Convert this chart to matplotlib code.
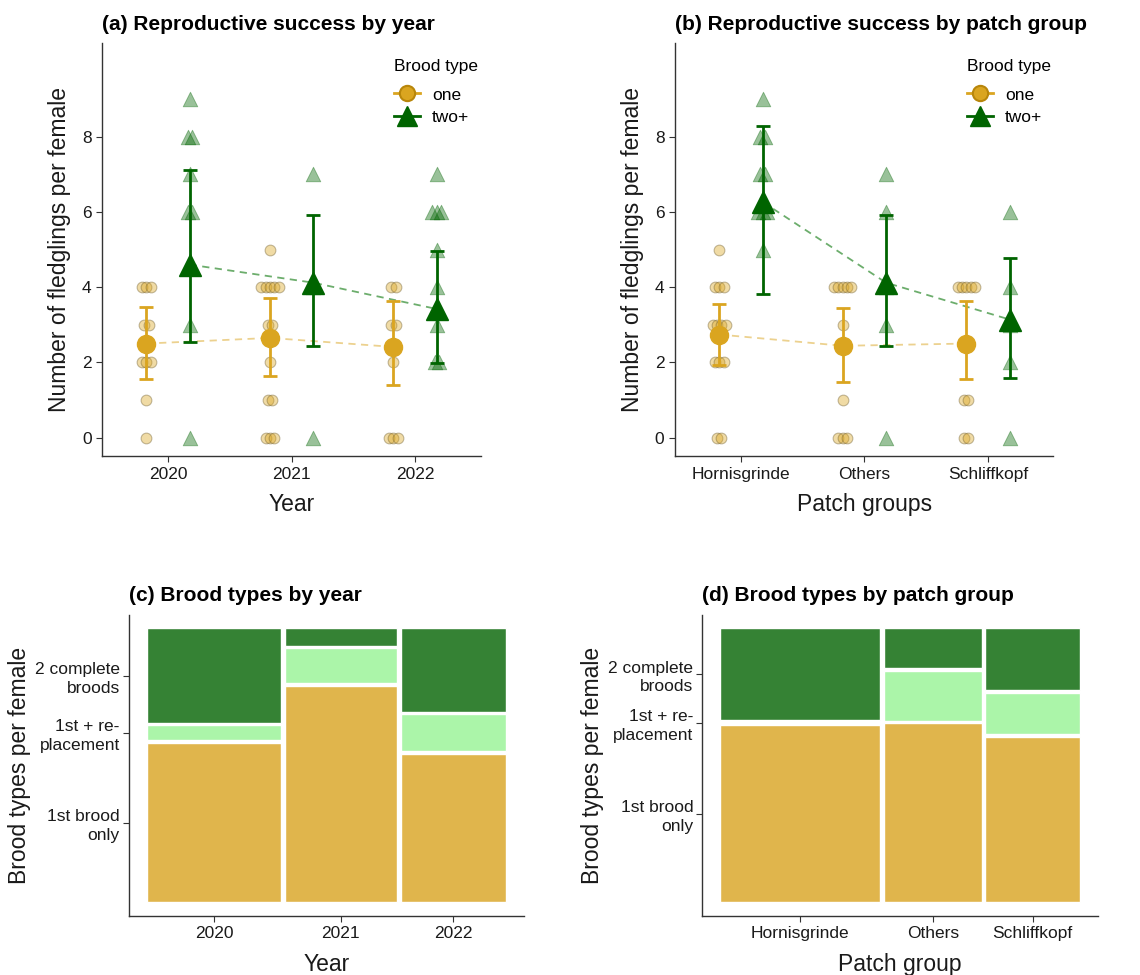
import numpy as np
import matplotlib
matplotlib.use('Agg')
import matplotlib.pyplot as plt
from matplotlib.lines import Line2D

plt.rcParams['font.family'] = ['Liberation Sans', 'DejaVu Sans']

# ---- data: reproductive success (panels a, b) ----
years = ['2020', '2021', '2022']
patches = ['Hornisgrinde', 'Others', 'Schliffkopf']

# raw fledgling counts per female (one brood / two+ broods)
year_one_pts = [[4, 4, 4, 3, 3, 2, 2, 2, 1, 0],
                [5, 4, 4, 4, 4, 4, 3, 3, 2, 1, 1, 0, 0, 0],
                [4, 4, 3, 3, 2, 0, 0, 0]]
year_two_pts = [[9, 8, 8, 7, 6, 6, 3, 0],
                [7, 4, 0],
                [7, 6, 6, 6, 5, 4, 3, 2, 2]]
patch_one_pts = [[5, 4, 4, 4, 3, 3, 3, 3, 2, 2, 2, 0, 0],
                 [4, 4, 4, 4, 4, 3, 1, 0, 0, 0],
                 [4, 4, 4, 4, 4, 1, 1, 0, 0]]
patch_two_pts = [[9, 8, 8, 7, 7, 6, 6, 6, 5],
                 [7, 6, 4, 3, 0],
                 [6, 4, 3, 2, 0]]

# model estimates with intervals
year_one_mean = [2.50, 2.65, 2.41]
year_one_lo = [1.56, 1.63, 1.39]
year_one_hi = [3.46, 3.70, 3.63]
year_two_mean = [4.60, 4.12, 3.42]
year_two_lo = [2.54, 2.43, 1.98]
year_two_hi = [7.12, 5.92, 4.97]

patch_one_mean = [2.74, 2.44, 2.50]
patch_one_lo = [1.93, 1.48, 1.56]
patch_one_hi = [3.56, 3.45, 3.64]
patch_two_mean = [6.27, 4.12, 3.14]
patch_two_lo = [3.81, 2.43, 1.59]
patch_two_hi = [8.30, 5.92, 4.77]

# ---- data: brood types (panels c, d) ----
brood_levels = ['1st brood\nonly', '1st + re-\nplacement', '2 complete\nbroods']
year_first_only = [22, 25, 16]
year_replacement = [2, 4, 4]
year_two_complete = [13, 2, 9]
patch_first_only = [29, 18, 16]
patch_replacement = [0, 5, 4]
patch_two_complete = [15, 4, 6]

GOLD = '#DAA520'
DKGREEN = '#006400'
MOSAIC_COLS = ['#E0B54C', '#ABF5A9', '#358234']
TXT = '#1a1a1a'

fig = plt.figure(figsize=(11.4, 9.75), dpi=100)


def spread(vals, step=0.035):
    # spread identical values sideways so they stay visible
    vals = np.asarray(vals)
    offs = np.zeros(len(vals))
    for v in np.unique(vals):
        idx = np.where(vals == v)[0]
        m = len(idx)
        offs[idx] = (np.arange(m) - (m - 1) / 2) * step
    return offs


def style(ax):
    for s in ['top', 'right']:
        ax.spines[s].set_visible(False)
    for s in ['left', 'bottom']:
        ax.spines[s].set_linewidth(1.0)
        ax.spines[s].set_color('#333333')
    ax.tick_params(axis='both', labelsize=12.5, colors='#333333', length=4,
                   width=0.8, labelcolor=TXT)


def success_panel(ax, cats, one_pts, two_pts, one_m, one_lo, one_hi,
                  two_m, two_lo, two_hi, title, xlabel):
    x = np.arange(1, len(cats) + 1)
    d = 0.175
    for i in range(len(cats)):
        xs = x[i] - d + spread(one_pts[i])
        ax.scatter(xs, one_pts[i], s=60, marker='o', facecolor=GOLD,
                   edgecolor='#6b5a2a', alpha=0.4, linewidth=0.8, zorder=2)
        xs = x[i] + d + spread(two_pts[i])
        ax.scatter(xs, two_pts[i], s=110, marker='^', facecolor=DKGREEN,
                   edgecolor=DKGREEN, alpha=0.4, linewidth=0.6, zorder=2)
    ax.plot(x - d, one_m, ls=(0, (4, 3)), color=GOLD, alpha=0.5, lw=1.3, zorder=3)
    ax.plot(x + d, two_m, ls=(0, (4, 3)), color='#2E8B2E', alpha=0.7, lw=1.3, zorder=3)
    ax.errorbar(x - d, one_m,
                yerr=[np.subtract(one_m, one_lo), np.subtract(one_hi, one_m)],
                fmt='none', ecolor=GOLD, elinewidth=2, capsize=5, capthick=2, zorder=4)
    ax.errorbar(x + d, two_m,
                yerr=[np.subtract(two_m, two_lo), np.subtract(two_hi, two_m)],
                fmt='none', ecolor=DKGREEN, elinewidth=2, capsize=5, capthick=2, zorder=4)
    ax.plot(x - d, one_m, 'o', ms=13, color=GOLD, ls='none', zorder=5)
    ax.plot(x + d, two_m, '^', ms=16, color=DKGREEN, ls='none', zorder=5)
    ax.set_xlim(0.465, 3.53)
    ax.set_ylim(-0.5, 10.5)
    ax.set_yticks([0, 2, 4, 6, 8])
    ax.set_xticks(x)
    ax.set_xticklabels(cats)
    style(ax)
    ax.set_xlabel(xlabel, fontsize=16.5, color=TXT, labelpad=8)
    ax.set_ylabel('Number of fledglings per female', fontsize=16.5, color=TXT, labelpad=8)
    ax.set_title(title, loc='left', fontsize=15, fontweight='bold', pad=9)
    handles = [Line2D([], [], color=GOLD, marker='o', ms=11, lw=2,
                      markeredgecolor='#B8860B', markeredgewidth=1.5),
               Line2D([], [], color=DKGREEN, marker='^', ms=14, lw=2)]
    leg = ax.legend(handles, ['one', 'two+'], title='Brood type', loc='upper left',
                    bbox_to_anchor=(0.73, 1.0), frameon=False, fontsize=12.5,
                    title_fontsize=12.5, handlelength=1.5, handletextpad=0.7,
                    labelspacing=0.4)
    leg._legend_box.align = 'left'
    leg._legend_box.sep = 10


def mosaic_panel(ax, cats, layers, title, xlabel, offset=0.01):
    counts = np.array(layers, dtype=float).T  # rows: categories
    totals = counts.sum(axis=1)
    avail_x = 1 - offset * (len(cats) - 1)
    avail_y = 1 - offset * (counts.shape[1] - 1)
    x0 = 0.0
    centers = []
    first_mids = []
    for i in range(len(cats)):
        w = totals[i] / totals.sum() * avail_x
        y0 = 0.0
        for k in range(counts.shape[1]):
            h = counts[i, k] / totals[i] * avail_y
            ax.bar(x0, h, width=w, bottom=y0, align='edge', color=MOSAIC_COLS[k],
                   edgecolor='white', linewidth=1.0)
            if i == 0:
                first_mids.append(y0 + h / 2)
            y0 += h + offset
        centers.append(x0 + w / 2)
        x0 += w + offset
    ax.set_xlim(-0.05, 1.05)
    ax.set_ylim(-0.05, 1.05)
    ax.set_xticks(centers)
    ax.set_xticklabels(cats)
    ax.set_yticks(first_mids)
    ax.set_yticklabels(brood_levels, ha='right', linespacing=1.3)
    style(ax)
    ax.tick_params(axis='y', pad=2.5)
    ax.set_xlabel(xlabel, fontsize=16.5, color=TXT, labelpad=8)
    ax.set_ylabel('Brood types per female', fontsize=16.5, color=TXT, labelpad=3)
    ax.set_title(title, loc='left', fontsize=15, fontweight='bold', pad=10)


ax_a = fig.add_axes([0.0895, 0.532, 0.332, 0.424])
success_panel(ax_a, years, year_one_pts, year_two_pts, year_one_mean, year_one_lo,
              year_one_hi, year_two_mean, year_two_lo, year_two_hi,
              '(a) Reproductive success by year', 'Year')

ax_b = fig.add_axes([0.592, 0.532, 0.332, 0.424])
success_panel(ax_b, patches, patch_one_pts, patch_two_pts, patch_one_mean, patch_one_lo,
              patch_one_hi, patch_two_mean, patch_two_lo, patch_two_hi,
              '(b) Reproductive success by patch group', 'Patch groups')

ax_c = fig.add_axes([0.113, 0.0605, 0.3465, 0.309])
mosaic_panel(ax_c, years, [year_first_only, year_replacement, year_two_complete],
             '(c) Brood types by year', 'Year')

ax_d = fig.add_axes([0.616, 0.0605, 0.347, 0.309])
mosaic_panel(ax_d, patches, [patch_first_only, patch_replacement, patch_two_complete],
             '(d) Brood types by patch group', 'Patch group')

fig.savefig('out.png', dpi=100)
